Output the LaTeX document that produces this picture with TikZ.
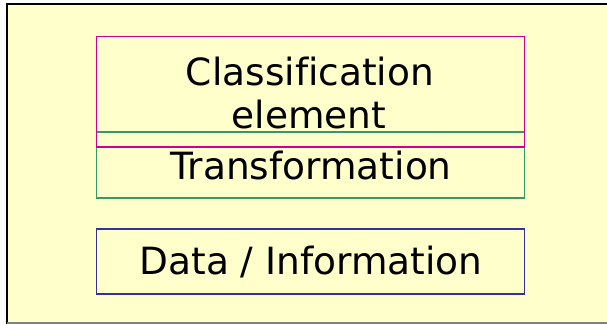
\documentclass[tikz,border=0pt]{standalone}
\usepackage{fontspec}
\setmainfont[Ligatures=NoCommon]{DejaVu Sans}
\definecolor{bgyellow}{HTML}{FFFFCC}
\definecolor{cmag}{HTML}{CC0099}
\definecolor{cgreen}{HTML}{339966}
\definecolor{cblue}{HTML}{333399}
\begin{document}
\begin{tikzpicture}[x=1pt,y=-1pt,
  layerbox/.style={draw=#1, line width=1.8pt, fill=none},
  lbl/.style={anchor=base, inner sep=0pt, font=\fontsize{37.5}{43}\selectfont, text=black}]
\useasboundingbox (0,0) rectangle (607,324);
\fill[white] (0,0) rectangle (607,324);
\fill[bgyellow] (7,4) rectangle (607,323);
\draw[black, line width=2pt] (7,324) -- (7,4) -- (607,4);
\draw[gray, line width=1.2pt] (7,323) -- (607,323);
% boxes
\draw[layerbox=cgreen] (96.5,132) rectangle (524.5,198) coordinate (gbox);
\draw[layerbox=cmag] (96.5,36.5) rectangle (524.5,147) coordinate (mbox);
\draw[layerbox=cblue] (96.5,229) rectangle (524.5,294) coordinate (bbox);
% labels
\node[lbl] (cls) at (310,85) {Classification};
\node[lbl] (elem) at (309,128.3) {element};
\node[lbl] (trans) at (311,179) {Transformation};
\node[lbl] (data) at (311,274) {Data / Information};
\end{tikzpicture}
\end{document}
